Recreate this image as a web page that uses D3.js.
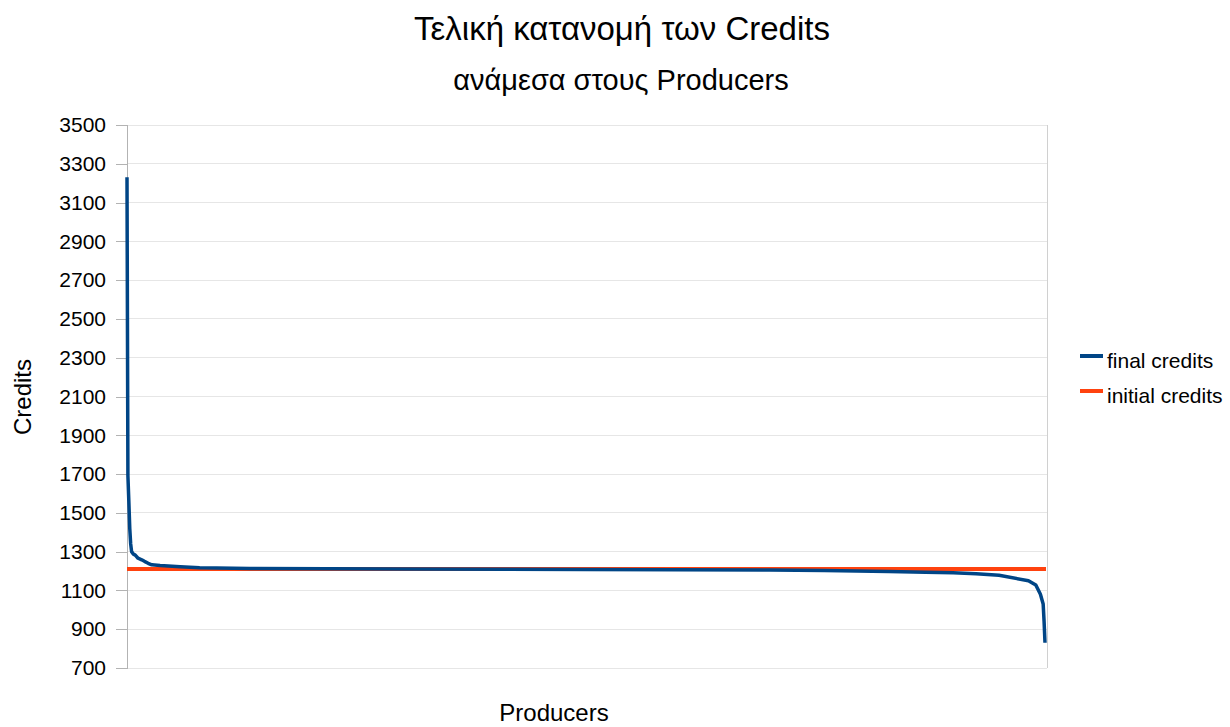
<!DOCTYPE html>
<html>
<head>
<meta charset="utf-8">
<script src="https://cdn.jsdelivr.net/npm/d3@7/dist/d3.min.js"></script>
<style>
  html, body { margin: 0; padding: 0; background: #fff; }
  svg { display: block; font-family: "Liberation Sans", Arial, sans-serif; }
</style>
</head>
<body>
<svg id="chart" width="1230" height="727"></svg>
<script>
// Producers ranked by final credits (rank 1 = richest, out of 1000)
const producerCount = 1000;
const producerRank = [1, 2, 3, 4, 5, 6, 8, 10, 13, 17, 20, 24, 28, 37, 59, 80, 135, 300, 500, 700, 760, 830, 870, 900, 925, 950, 982, 990, 995, 998, 999, 1000];
const finalCredits = [3230, 1690, 1560, 1420, 1340, 1300, 1287, 1282, 1266, 1258, 1250, 1240, 1232, 1228, 1222, 1217, 1213, 1210, 1208, 1205, 1203, 1197, 1194, 1191, 1186, 1178, 1150, 1128, 1080, 1030, 940, 830];
const initialCredits = 1210;

const yTicks = [700, 900, 1100, 1300, 1500, 1700, 1900, 2100, 2300, 2500, 2700, 2900, 3100, 3300, 3500];
const seriesNames = ["final credits", "initial credits"];
const seriesColors = ["#004586", "#ff420e"];

const titleText = "Τελική κατανομή των Credits";
const subtitleText = "ανάμεσα στους Producers";
const xTitle = "Producers";
const yTitle = "Credits";

const svg = d3.select("#chart");
const plot = { left: 127, right: 1047, top: 125, bottom: 668 };

const x = d3.scaleLinear().domain([1, producerCount]).range([plot.left, plot.right - 2]);
const y = d3.scaleLinear().domain([700, 3500]).range([plot.bottom, plot.top]);

// horizontal grid
svg.append("g")
  .selectAll("line")
  .data(yTicks)
  .join("line")
  .attr("x1", plot.left).attr("x2", plot.right)
  .attr("y1", d => y(d)).attr("y2", d => y(d))
  .attr("stroke", "#e6e6e6").attr("stroke-width", 1)
  .attr("shape-rendering", "crispEdges");

// right border of the plot area
svg.append("line")
  .attr("x1", plot.right).attr("x2", plot.right)
  .attr("y1", plot.top).attr("y2", plot.bottom)
  .attr("stroke", "#d0d0d0").attr("shape-rendering", "crispEdges");

// y axis
const yAxis = d3.axisLeft(y).tickValues(yTicks).tickSize(11).tickPadding(10).tickFormat(d3.format("d"));
const yg = svg.append("g").attr("transform", `translate(${plot.left},0)`).call(yAxis);
yg.select(".domain").attr("stroke", "#b3b3b3").attr("shape-rendering", "crispEdges");
yg.selectAll(".tick line").attr("stroke", "#b3b3b3").attr("shape-rendering", "crispEdges");
yg.selectAll(".tick text").attr("font-size", 21).attr("fill", "#000")
  .attr("font-family", "Liberation Sans, Arial, sans-serif");

// initial credits reference line
svg.append("line")
  .attr("x1", plot.left).attr("x2", plot.right - 1)
  .attr("y1", y(initialCredits)).attr("y2", y(initialCredits))
  .attr("stroke", seriesColors[1]).attr("stroke-width", 4);

// final credits curve
const data = producerRank.map((r, i) => ({ r, v: finalCredits[i] }));
const line = d3.line().x(d => x(d.r)).y(d => y(d.v));
svg.append("path")
  .datum(data)
  .attr("d", line)
  .attr("fill", "none")
  .attr("stroke", seriesColors[0])
  .attr("stroke-width", 3.5)
  .attr("stroke-linejoin", "round");

// titles
svg.append("text").attr("x", 622).attr("y", 40).attr("text-anchor", "middle")
  .attr("font-size", 33).text(titleText);
svg.append("text").attr("x", 621).attr("y", 90).attr("text-anchor", "middle")
  .attr("font-size", 29).text(subtitleText);
svg.append("text").attr("x", 554).attr("y", 721).attr("text-anchor", "middle")
  .attr("font-size", 24).text(xTitle);
svg.append("text").attr("transform", "translate(31,397) rotate(-90)").attr("text-anchor", "middle")
  .attr("font-size", 24).text(yTitle);

// legend
const legend = svg.append("g").selectAll("g").data(seriesNames).join("g")
  .attr("transform", (d, i) => `translate(1080,${361 + i * 35})`);
legend.append("line").attr("x1", 0).attr("x2", 23).attr("y1", -5).attr("y2", -5)
  .attr("stroke", (d, i) => seriesColors[i]).attr("stroke-width", 4);
legend.append("text").attr("x", 27).attr("y", 7).attr("font-size", 21).text(d => d);
</script>
</body>
</html>
